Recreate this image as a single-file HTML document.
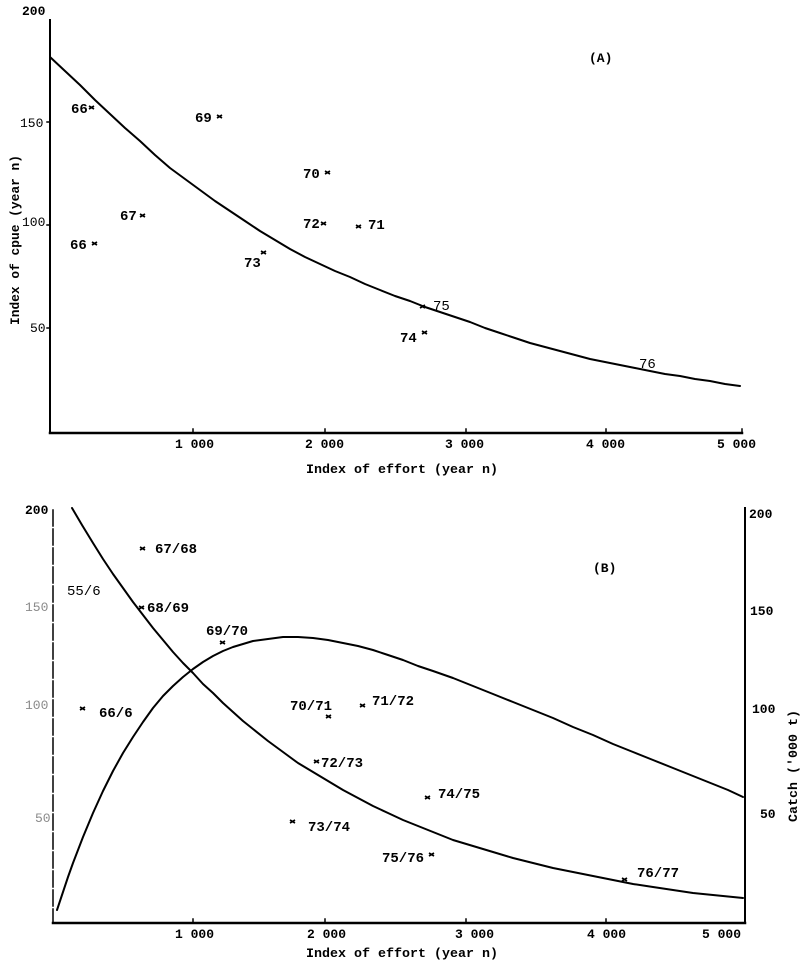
<!DOCTYPE html>
<html>
<head>
<meta charset="utf-8">
<style>
html,body{margin:0;padding:0;background:#fff;}
svg{display:block;}
text{font-family:"Liberation Mono",monospace;font-weight:bold;fill:#000;}
.n{font-weight:normal;}
.g{font-weight:normal;fill:#8a8a8a;}
</style>
</head>
<body>
<svg width="800" height="961" viewBox="0 0 800 961" xmlns="http://www.w3.org/2000/svg">
<!-- ================= PANEL A ================= -->
<g stroke="#000" fill="none" stroke-linecap="square">
  <line x1="50" y1="20" x2="50" y2="433" stroke-width="2"/>
  <line x1="50" y1="433" x2="742" y2="433" stroke-width="2.5"/>
  <line x1="47" y1="122" x2="50" y2="122" stroke-width="1.5"/>
  <line x1="47" y1="225" x2="50" y2="225" stroke-width="1.5"/>
  <line x1="47" y1="328" x2="50" y2="328" stroke-width="1.5"/>
  <line x1="193" y1="429" x2="193" y2="433" stroke-width="1.5"/>
  <line x1="325" y1="429" x2="325" y2="433" stroke-width="1.5"/>
  <line x1="466" y1="429" x2="466" y2="433" stroke-width="1.5"/>
  <line x1="606" y1="429" x2="606" y2="433" stroke-width="1.5"/>
  <line x1="742" y1="429" x2="742" y2="433" stroke-width="1.5"/>
  <polyline stroke-width="2" stroke-linejoin="round" stroke-linecap="round" points="50,57 65,71 80,85 95,100 110,114 125,128 140,141 155,155 170,168 185,179 200,190 215,201 230,211 245,221 260,231 275,240 290,249 305,257 320,264 335,271 350,277 365,284 380,290 395,296 410,301 425,307 440,312 455,317 470,322 485,328 500,333 515,338 530,343 545,347 560,351 575,355 590,359 605,362 620,365 635,368 650,371 665,374 680,376 695,379 710,381 725,384 740,386"/>
</g>
<g font-size="13">
  <text x="22" y="15">200</text>
  <text x="20" y="127" class="n">150</text>
  <text x="22" y="226" class="n">100</text>
  <text x="30" y="332" class="n">50</text>
  <text x="175" y="448">1 000</text>
  <text x="305" y="448">2 000</text>
  <text x="445" y="448">3 000</text>
  <text x="586" y="448">4 000</text>
  <text x="717" y="448">5 000</text>
  <text x="306" y="473" textLength="192" lengthAdjust="spacingAndGlyphs">Index of effort (year n)</text>
  <text transform="translate(19,240) rotate(-90)" text-anchor="middle" textLength="170" lengthAdjust="spacingAndGlyphs">Index of cpue (year n)</text>
  <text x="589" y="62">(A)</text>
</g>
<g font-size="14">
  <text x="71" y="113">66</text>
  <text x="195" y="122">69</text>
  <text x="303" y="178">70</text>
  <text x="120" y="220">67</text>
  <text x="303" y="228">72</text>
  <text x="368" y="229">71</text>
  <text x="70" y="249">66</text>
  <text x="244" y="267">73</text>
  <text x="433" y="310" class="n">75</text>
  <text x="400" y="342">74</text>
  <text x="639" y="368" class="n">76</text>
</g>
<g stroke="#000" stroke-width="1.7" fill="none">
  <path d="M89,106 l5,3 M89,109 l5,-3"/>
  <path d="M217,115 l5,3 M217,118 l5,-3"/>
  <path d="M325,171 l5,3 M325,174 l5,-3"/>
  <path d="M140,214 l5,3 M140,217 l5,-3"/>
  <path d="M321,222 l5,3 M321,225 l5,-3"/>
  <path d="M356,225 l5,3 M356,228 l5,-3"/>
  <path d="M92,242 l5,3 M92,245 l5,-3"/>
  <path d="M261,251 l5,3 M261,254 l5,-3"/>
  <path d="M420,305 l5,3 M420,308 l5,-3"/>
  <path d="M422,331 l5,3 M422,334 l5,-3"/>
</g>

<!-- ================= PANEL B ================= -->
<g stroke="#000" fill="none" stroke-linecap="square">
  <line x1="53" y1="510" x2="53" y2="923" stroke-width="1.5" stroke-dasharray="16 3"/>
  <line x1="745" y1="508" x2="745" y2="923" stroke-width="2"/>
  <line x1="53" y1="923" x2="745" y2="923" stroke-width="2.5"/>
  <line x1="193" y1="919" x2="193" y2="923" stroke-width="1.5"/>
  <line x1="325" y1="919" x2="325" y2="923" stroke-width="1.5"/>
  <line x1="466" y1="919" x2="466" y2="923" stroke-width="1.5"/>
  <line x1="606" y1="919" x2="606" y2="923" stroke-width="1.5"/>
  <!-- cpue curve -->
  <polyline stroke-width="2" stroke-linejoin="round" stroke-linecap="round" points="72,508 82,525 93,543 103,559 113,574 123,588 133,602 143,615 153,628 163,640 173,652 183,663 193,673 203,684 213,693 223,703 233,712 243,721 253,729 268,741 283,752 298,763 313,772 328,781 343,790 358,798 373,806 388,813 403,820 418,826 433,832 453,840 473,846 493,852 513,858 533,863 553,868 573,872 593,876 613,880 633,884 653,887 673,890 693,893 713,895 743,898"/>
  <!-- catch curve -->
  <polyline stroke-width="2" stroke-linejoin="round" stroke-linecap="round" points="57,910 60,901 63,892 68,877 73,863 78,850 83,837 88,825 93,813 103,791 113,771 123,753 133,737 143,722 153,708 163,696 173,686 183,677 193,669 203,662 213,656 223,651 233,647 243,644 253,641 268,639 283,637 298,637 313,638 328,640 343,643 358,646 373,650 388,655 403,660 418,666 433,671 453,678 473,686 493,694 513,702 533,710 553,718 573,727 593,735 613,744 633,752 653,760 673,768 693,776 713,784 728,790 743,797"/>
</g>
<g font-size="13">
  <text x="25" y="514">200</text>
  <text x="25" y="611" class="g">150</text>
  <text x="25" y="709" class="g">100</text>
  <text x="35" y="822" class="g">50</text>
  <text x="749" y="518">200</text>
  <text x="750" y="615">150</text>
  <text x="752" y="713">100</text>
  <text x="760" y="818">50</text>
  <text transform="translate(797,766) rotate(-90)" text-anchor="middle" textLength="112" lengthAdjust="spacingAndGlyphs">Catch ('000 t)</text>
  <text x="175" y="938">1 000</text>
  <text x="307" y="938">2 000</text>
  <text x="455" y="938">3 000</text>
  <text x="587" y="938">4 000</text>
  <text x="702" y="938">5 000</text>
  <text x="306" y="957" textLength="192" lengthAdjust="spacingAndGlyphs">Index of effort (year n)</text>
  <text x="593" y="572">(B)</text>
</g>
<g font-size="14">
  <text x="155" y="553">67/68</text>
  <text x="67" y="595" class="n">55/6</text>
  <text x="147" y="612">68/69</text>
  <text x="206" y="635">69/70</text>
  <text x="99" y="717">66/6</text>
  <text x="290" y="710">70/71</text>
  <text x="372" y="705">71/72</text>
  <text x="321" y="767">72/73</text>
  <text x="308" y="831">73/74</text>
  <text x="438" y="798">74/75</text>
  <text x="382" y="862">75/76</text>
  <text x="637" y="877">76/77</text>
</g>
<g stroke="#000" stroke-width="1.7" fill="none">
  <path d="M140,547 l5,3 M140,550 l5,-3"/>
  <path d="M139,606 l5,3 M139,609 l5,-3"/>
  <path d="M220,641 l5,3 M220,644 l5,-3"/>
  <path d="M80,707 l5,3 M80,710 l5,-3"/>
  <path d="M326,715 l5,3 M326,718 l5,-3"/>
  <path d="M360,704 l5,3 M360,707 l5,-3"/>
  <path d="M314,760 l5,3 M314,763 l5,-3"/>
  <path d="M290,820 l5,3 M290,823 l5,-3"/>
  <path d="M425,796 l5,3 M425,799 l5,-3"/>
  <path d="M429,853 l5,3 M429,856 l5,-3"/>
  <path d="M622,878 l5,3 M622,881 l5,-3"/>
</g>
</svg>
</body>
</html>
